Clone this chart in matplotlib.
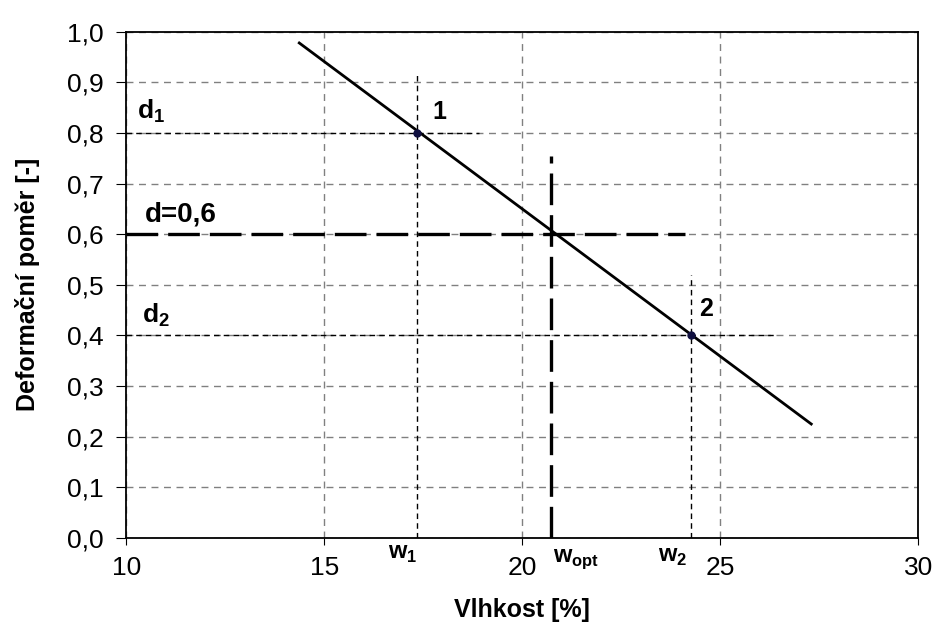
import matplotlib.pyplot as plt
from matplotlib.ticker import FuncFormatter

plt.rcParams['font.family'] = ['Liberation Sans', 'DejaVu Sans']
plt.rcParams['mathtext.fontset'] = 'custom'
plt.rcParams['mathtext.rm'] = 'Liberation Sans'
plt.rcParams['mathtext.bf'] = 'Liberation Sans:bold'

# regression line endpoints (moisture %, deformation ratio)
line_x = [14.37, 27.3]
line_y = [0.978, 0.225]

# the two measured points
pt_x = [17.35, 24.27]
pt_y = [0.8, 0.4]
pt_names = ['1', '2']

w_opt = 20.73
d_target = 0.6

fig, ax = plt.subplots(figsize=(9.35, 6.24), dpi=100)
fig.subplots_adjust(left=0.135, right=0.982, top=0.949, bottom=0.138)

ax.set_xlim(10, 30)
ax.set_ylim(0, 1.0)
ax.set_xticks([10, 15, 20, 25, 30])
ax.set_yticks([i / 10 for i in range(11)])
ax.yaxis.set_major_formatter(FuncFormatter(lambda v, p: f'{v:.1f}'.replace('.', ',')))
ax.tick_params(labelsize=19, direction='out', colors='black')
ax.tick_params(axis='x', length=5, pad=8)
ax.tick_params(axis='y', length=7, pad=9.5)
ax.grid(True, color='#808080', linestyle=(0, (5, 4)), linewidth=1.0)
for s in ax.spines.values():
    s.set_linewidth(1.3)

# helper lines for points 1 and 2
thin = dict(color='black', lw=1.0, ls=(0, (4, 3)))
ax.plot([pt_x[0], pt_x[0]], [0, 0.92], **thin)
ax.plot([10, 18.9], [pt_y[0], pt_y[0]], **thin)
ax.plot([pt_x[1], pt_x[1]], [0, 0.52], **thin)
ax.plot([10, 26.4], [pt_y[1], pt_y[1]], **thin)

# optimum lines
thick = dict(color='black', lw=2.4, ls=(0, (9.5, 3)))
ax.plot([w_opt, w_opt], [0, 0.755], **thick)
ax.plot([10, 24.1], [d_target, d_target], **thick)

ax.plot(line_x, line_y, color='black', lw=2)
ax.plot(pt_x, pt_y, 'o', color='#101040', ms=5)

ax.text(17.73, 0.828, pt_names[0], fontsize=18, fontweight='bold', va='baseline')
ax.text(24.47, 0.439, pt_names[1], fontsize=18, fontweight='bold', va='baseline')

ax.text(10.28, 0.828, r'd$_\mathbf{1}$', fontsize=19, fontweight='bold', va='baseline')
ax.text(10.48, 0.6245, 'd=0,6', fontsize=20, fontweight='bold', va='baseline')
ax.text(10.4, 0.425, r'd$_\mathbf{2}$', fontsize=19, fontweight='bold', va='baseline')

ax.text(16.62, -0.042, r'w$_\mathbf{1}$', fontsize=17, fontweight='bold', va='baseline')
ax.text(20.78, -0.047, r'w$_\mathbf{opt}$', fontsize=17, fontweight='bold', va='baseline')
ax.text(23.43, -0.047, r'w$_\mathbf{2}$', fontsize=17, fontweight='bold', va='baseline')

ax.set_xlabel('Vlhkost [%]', fontsize=18, fontweight='bold', labelpad=13)
ax.set_ylabel('Deformační poměr [-]', fontsize=18, fontweight='bold', labelpad=19)

plt.savefig('out.png')
